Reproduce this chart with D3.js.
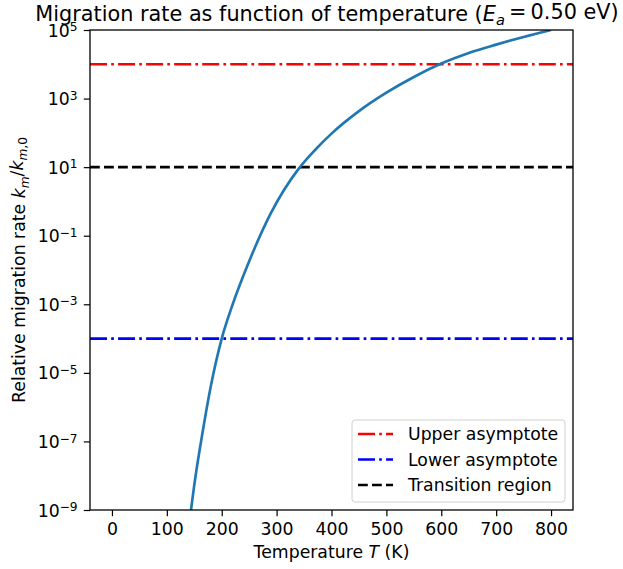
<!DOCTYPE html>
<html>
<head>
<meta charset="utf-8">
<script src="https://cdn.jsdelivr.net/npm/d3@7"></script>
<style>
  body { margin: 0; background: #fff; }
  .tick line { stroke: #000; stroke-width: 1.2; }
  .tick text { font-size: 17.3px; fill: #000; }
</style>
</head>
<body>
<svg id="chart" width="623" height="569" font-family="'DejaVu Sans', Verdana, sans-serif"></svg>
<script>
// temperature (K) and relative migration rate
var temps = [144, 150, 165, 180, 200, 220, 250, 290, 340, 370, 400, 450, 500, 550, 600, 650, 700, 750, 800];
var rates = [1.0e-9, 5.4e-9, 1.8e-7, 4.0e-6, 1.0e-4, 1.0e-3, 1.8e-2, 0.47, 8.9, 31.6, 95, 430, 1480, 4270, 10500, 21400, 37500, 62500, 1.0e5];

// reference lines
var refNames = ["Upper asymptote", "Lower asymptote", "Transition region"];
var refValues = [1e4, 1e-4, 10];
var refColors = ["red", "blue", "black"];
var refDash = ["17,4.2,2.65,4.2", "17,4.2,2.65,4.2", "9.8,4.2"];

var xTicks = [0, 100, 200, 300, 400, 500, 600, 700, 800];
var yExps = [5, 3, 1, -1, -3, -5, -7, -9];

function drawChart() {
    var svg = d3.select("#chart");

    var pLeft = 90, pRight = 573, pTop = 30, pBottom = 510;
    var lw = 2.65, tickLen = 6.2;

    var xScale = d3.scaleLinear()
        .domain([-40, 840])
        .range([pLeft, pRight]);

    var yScale = d3.scaleLog()
        .domain([1e-9, 1e5])
        .range([pBottom, pTop]);

    svg.append("defs").append("clipPath")
        .attr("id", "plotClip")
        .append("rect")
        .attr("x", pLeft).attr("y", pTop)
        .attr("width", pRight - pLeft).attr("height", pBottom - pTop);

    var plot = svg.append("g").attr("clip-path", "url(#plotClip)");

    // horizontal reference lines
    plot.selectAll("line.ref")
        .data(refValues)
        .enter()
        .append("line")
        .attr("class", "ref")
        .attr("x1", pLeft)
        .attr("x2", pRight)
        .attr("y1", function(d){ return yScale(d); })
        .attr("y2", function(d){ return yScale(d); })
        .style("stroke", function(d, i){ return refColors[i]; })
        .style("stroke-width", lw)
        .style("stroke-dasharray", function(d, i){ return refDash[i]; });

    // the rate curve
    var pts = temps.map(function(t, i){ return [t, rates[i]]; });
    var line = d3.line()
        .x(function(d){ return xScale(d[0]); })
        .y(function(d){ return yScale(d[1]); })
        .curve(d3.curveMonotoneX);

    plot.append("path")
        .datum(pts)
        .attr("d", line)
        .style("fill", "none")
        .style("stroke", "#1f77b4")
        .style("stroke-width", lw);

    // x axis
    var xAxis = d3.axisBottom(xScale)
        .tickValues(xTicks)
        .tickSize(tickLen)
        .tickPadding(tickLen)
        .tickSizeOuter(0);

    var gx = svg.append("g")
        .attr("transform", "translate(0," + pBottom + ")")
        .call(xAxis)
        .attr("font-family", null)
        .attr("font-size", null);
    gx.select(".domain").remove();
    gx.selectAll("text").attr("dy", "0.75em");

    // y axis, tick labels as 10^n
    var yAxis = d3.axisLeft(yScale)
        .tickValues(yExps.map(function(e){ return Math.pow(10, e); }))
        .tickFormat("")
        .tickSize(tickLen)
        .tickSizeOuter(0);

    var gy = svg.append("g")
        .attr("transform", "translate(" + pLeft + ",0)")
        .call(yAxis)
        .attr("font-family", null)
        .attr("font-size", null);
    gy.select(".domain").remove();

    gy.selectAll(".tick").each(function(d, i){
        var e = yExps[i];
        var t = d3.select(this).select("text")
            .attr("x", -2 * tickLen)
            .attr("dy", "0.35em")
            .style("text-anchor", "end");
        t.append("tspan").text("10");
        t.append("tspan")
            .attr("dy", "-0.45em")
            .style("font-size", "12.2px")
            .text(String(e).replace("-", "\u2212"));
    });

    // spines
    svg.append("rect")
        .attr("x", pLeft).attr("y", pTop)
        .attr("width", pRight - pLeft).attr("height", pBottom - pTop)
        .style("fill", "none")
        .style("stroke", "#000")
        .style("stroke-width", 1.3);

    // title
    var title = svg.append("text")
        .attr("x", 327)
        .attr("y", 21)
        .style("text-anchor", "middle")
        .style("font-size", "20.8px");
    title.append("tspan").text("Migration rate as function of temperature (");
    title.append("tspan").style("font-style", "italic").text("E");
    title.append("tspan").attr("dy", "0.25em").style("font-size", "14.6px").style("font-style", "italic").text("a");
    title.append("tspan").attr("dy", "-0.25em").text("\u2009=\u20090.50 eV)");

    // x label
    var xl = svg.append("text")
        .attr("x", (pLeft + pRight) / 2)
        .attr("y", 558)
        .style("text-anchor", "middle")
        .style("font-size", "17.3px");
    xl.append("tspan").text("Temperature ");
    xl.append("tspan").style("font-style", "italic").text("T");
    xl.append("tspan").text(" (K)");

    // y label
    var yl = svg.append("text")
        .attr("transform", "translate(25," + ((pTop + pBottom) / 2) + ") rotate(-90)")
        .style("text-anchor", "middle")
        .style("font-size", "17.3px");
    yl.append("tspan").text("Relative migration rate ");
    yl.append("tspan").style("font-style", "italic").text("k");
    yl.append("tspan").attr("dy", "0.3em").style("font-size", "12.2px").style("font-style", "italic").text("m");
    yl.append("tspan").attr("dy", "-0.3em").text("/");
    yl.append("tspan").style("font-style", "italic").text("k");
    yl.append("tspan").attr("dy", "0.3em").style("font-size", "12.2px").style("font-style", "italic").text("m");
    yl.append("tspan").style("font-size", "12.2px").text(",0");

    // legend
    var legend = svg.append("g");
    legend.append("rect")
        .attr("x", 352).attr("y", 420)
        .attr("width", 213).attr("height", 82)
        .attr("rx", 3)
        .style("fill", "#fff")
        .style("fill-opacity", 0.8)
        .style("stroke", "#d0d0d0")
        .style("stroke-width", 1);

    var rows = legend.selectAll("g.row")
        .data(refNames)
        .enter()
        .append("g")
        .attr("class", "row")
        .attr("transform", function(d, i){ return "translate(0," + (434 + i * 25.5) + ")"; });

    rows.append("line")
        .attr("x1", 358).attr("x2", 393)
        .attr("y1", 0).attr("y2", 0)
        .style("stroke", function(d, i){ return refColors[i]; })
        .style("stroke-width", lw)
        .style("stroke-dasharray", function(d, i){ return refDash[i]; });

    rows.append("text")
        .attr("x", 408)
        .attr("y", 0)
        .attr("dy", "0.35em")
        .style("font-size", "17.3px")
        .text(function(d){ return d; });
}

drawChart();
</script>
</body>
</html>
